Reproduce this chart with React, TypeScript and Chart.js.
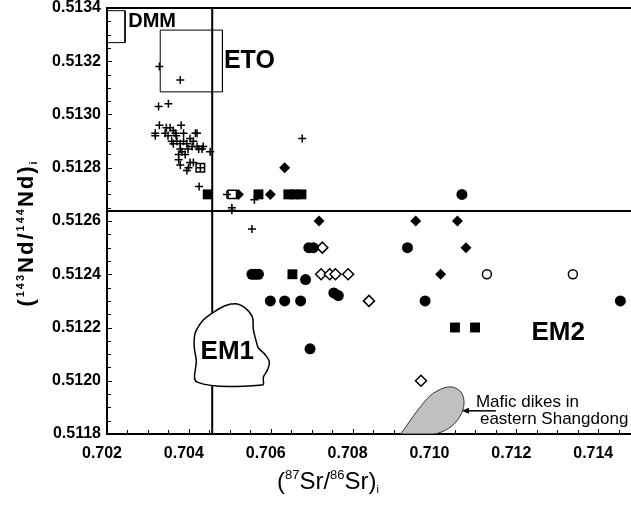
import { useEffect, useRef } from 'react';
import { Chart, registerables } from 'chart.js';
Chart.register(...registerables);

// ---- axes ----
const X_MIN = 0.702;
const X_MAX = 0.7148;
const Y_MIN = 0.5118;
const Y_MAX = 0.5134;
const xTickValues = [0.702, 0.704, 0.706, 0.708, 0.71, 0.712, 0.714];
const yTickValues = [0.5118, 0.512, 0.5122, 0.5124, 0.5126, 0.5128, 0.513, 0.5132, 0.5134];

// ---- data series ----
const crossSr = [0.70328, 0.70379, 0.70326, 0.7035, 0.70328, 0.70345, 0.70354, 0.70362, 0.70381, 0.70318, 0.70318, 0.70342, 0.70367, 0.70387, 0.70371, 0.70358, 0.70362, 0.70379, 0.70387, 0.70395, 0.70403, 0.70411, 0.70416, 0.7042, 0.70432, 0.70424, 0.70379, 0.70383, 0.70375, 0.70391, 0.70375, 0.70379, 0.70395, 0.70403, 0.70411, 0.70399, 0.70452, 0.70435, 0.7042, 0.70425, 0.70505, 0.70505, 0.70677, 0.7056, 0.70493, 0.70554, 0.70349, 0.70369, 0.70398, 0.70408, 0.70428];
const crossNd = [0.51318, 0.51313, 0.51303, 0.51304, 0.51296, 0.51295, 0.51295, 0.51294, 0.51296, 0.51293, 0.51292, 0.51293, 0.51293, 0.51293, 0.5129, 0.5129, 0.51289, 0.51289, 0.5129, 0.51289, 0.51291, 0.5129, 0.51293, 0.51288, 0.51287, 0.51287, 0.51287, 0.51286, 0.51285, 0.51285, 0.51283, 0.51281, 0.51279, 0.51282, 0.51282, 0.5128, 0.51286, 0.51288, 0.51293, 0.51273, 0.51265, 0.51264, 0.51291, 0.51268, 0.5127, 0.51257, 0.51292, 0.51292, 0.51287, 0.51288, 0.5128];

const fSquareSr = [0.70446, 0.7057, 0.70643, 0.70658, 0.70675, 0.70653, 0.7105, 0.71099];
const fSquareNd = [0.5127, 0.5127, 0.5127, 0.5127, 0.5127, 0.5124, 0.5122, 0.5122];

const fDiamondSr = [0.70634, 0.70599, 0.70521, 0.70718, 0.70954, 0.71056, 0.71077, 0.71015];
const fDiamondNd = [0.5128, 0.5127, 0.5127, 0.5126, 0.5126, 0.5126, 0.5125, 0.5124];

const fCircleSr = [0.71067, 0.70693, 0.70704, 0.70554, 0.70562, 0.7057, 0.70685, 0.70599, 0.70634, 0.70673, 0.70754, 0.70765, 0.70696, 0.70934, 0.70977, 0.71454];
const fCircleNd = [0.5127, 0.5125, 0.5125, 0.5124, 0.5124, 0.5124, 0.51238, 0.5123, 0.5123, 0.5123, 0.51233, 0.51232, 0.51212, 0.5125, 0.5123, 0.5123];

const oDiamondSr = [0.70726, 0.70723, 0.70744, 0.70758, 0.70789, 0.7084, 0.70967];
const oDiamondNd = [0.5125, 0.5124, 0.5124, 0.5124, 0.5124, 0.5123, 0.512];

const oCircleSr = [0.71128, 0.71338];
const oCircleNd = [0.5124, 0.5124];

const oSquareSr = [0.70428, 0.70506];
const oSquareNd = [0.5128, 0.5127];

// ---- reference fields ----
const dmmSr = [0.702, 0.70244, 0.70244, 0.702, 0.702];
const dmmNd = [0.51339, 0.51339, 0.51327, 0.51327, 0.51339];
const etoSr = [0.7033, 0.70482, 0.70482, 0.7033, 0.7033];
const etoNd = [0.513317, 0.513317, 0.513085, 0.513085, 0.513317];
const em1Sr = [0.705012, 0.705184, 0.70538, 0.705551, 0.705576, 0.705649, 0.705698, 0.705869, 0.705967, 0.705918, 0.70582, 0.705796, 0.704204, 0.70418, 0.704131, 0.704155, 0.704351, 0.704571, 0.704816, 0.705012];
const em1Nd = [0.512288, 0.512288, 0.512273, 0.512239, 0.512191, 0.512146, 0.512123, 0.512097, 0.51207, 0.51204, 0.512014, 0.511984, 0.511995, 0.512078, 0.512127, 0.512179, 0.512228, 0.512254, 0.512277, 0.512288];
const maficSr = [0.709176, 0.709592, 0.70991, 0.710229, 0.710449, 0.710645, 0.710718, 0.710694, 0.710523, 0.710278, 0.709984, 0.709176];
const maficNd = [0.5118, 0.51189, 0.511946, 0.511973, 0.511976, 0.511958, 0.511928, 0.51189, 0.511845, 0.511815, 0.5118, 0.5118];
const refLineSr = 0.70457;
const refLineNd = 0.512638;

// ---- annotations ----
const fieldLabels = ['DMM', 'ETO', 'EM1', 'EM2'];
const fieldLabelSr = [0.703102, 0.705478, 0.704939, 0.713021];
const fieldLabelNd = [0.513351, 0.513201, 0.512108, 0.512179];
const fieldLabelSize = [20, 25, 26, 26];
const maficLines = ['Mafic dikes in', 'eastern Shangdong'];
const maficLineSr = [0.711012, 0.71111];
const maficLineNd = [0.51192, 0.511856];
const arrowSr = [0.7115, 0.71067];
const arrowNd = 0.511887;

const pts = (xs: number[], ys: number[]) => xs.map((x, i) => ({ x, y: ys[i] }));
const FONT = '"Liberation Sans", Arial, sans-serif';

const decoPlugin = {
  id: 'deco',
  beforeDatasetsDraw(chart: any) {
    const { ctx, chartArea } = chart;
    const xs = chart.scales.x;
    const ys = chart.scales.y;
    ctx.save();
    ctx.strokeStyle = '#000';
    ctx.lineWidth = 2;
    ctx.beginPath();
    ctx.moveTo(chartArea.left, chartArea.top);
    ctx.lineTo(chartArea.right, chartArea.top);
    ctx.stroke();
    ctx.lineWidth = 1;
    ctx.beginPath();
    for (let i = 0; ; i++) {
      const v = X_MIN + i * 0.0005;
      if (v > X_MAX + 1e-9) break;
      const px = Math.round(xs.getPixelForValue(v)) + 0.5;
      const len = i % 4 === 0 ? 5 : 4;
      ctx.moveTo(px, chartArea.bottom);
      ctx.lineTo(px, chartArea.bottom - len);
    }
    for (let i = 0; ; i++) {
      const v = Y_MIN + i * 0.00005;
      if (v > Y_MAX + 1e-9) break;
      const py = Math.round(ys.getPixelForValue(v)) + 0.5;
      const len = i % 4 === 0 ? 5 : 4;
      ctx.moveTo(chartArea.left, py);
      ctx.lineTo(chartArea.left + len, py);
    }
    ctx.stroke();
    ctx.restore();
  },
  afterDatasetsDraw(chart: any) {
    const { ctx } = chart;
    const xs = chart.scales.x;
    const ys = chart.scales.y;
    ctx.save();
    ctx.fillStyle = '#000';
    ctx.textAlign = 'center';
    ctx.textBaseline = 'middle';
    fieldLabels.forEach((t, i) => {
      ctx.font = `bold ${fieldLabelSize[i]}px ${FONT}`;
      ctx.fillText(t, xs.getPixelForValue(fieldLabelSr[i]), ys.getPixelForValue(fieldLabelNd[i]));
    });
    ctx.textAlign = 'left';
    ctx.font = `17px ${FONT}`;
    maficLines.forEach((t, i) => {
      ctx.fillText(t, xs.getPixelForValue(maficLineSr[i]), ys.getPixelForValue(maficLineNd[i]));
    });
    const ax0 = xs.getPixelForValue(arrowSr[0]);
    const ax1 = xs.getPixelForValue(arrowSr[1]);
    const ay = ys.getPixelForValue(arrowNd);
    ctx.strokeStyle = '#000';
    ctx.lineWidth = 1.5;
    ctx.beginPath();
    ctx.moveTo(ax0, ay);
    ctx.lineTo(ax1 + 4, ay);
    ctx.stroke();
    ctx.beginPath();
    ctx.moveTo(ax1, ay);
    ctx.lineTo(ax1 + 7, ay - 3);
    ctx.lineTo(ax1 + 7, ay + 3);
    ctx.closePath();
    ctx.fill();
    ctx.restore();
  },
  afterDraw(chart: any) {
    const { ctx, chartArea } = chart;
    ctx.save();
    ctx.fillStyle = '#000';
    ctx.textBaseline = 'alphabetic';
    {
      const segs: [string, string, number][] = [
        ['(', `24px ${FONT}`, 0],
        ['87', `13px ${FONT}`, -10],
        ['Sr/', `24px ${FONT}`, 0],
        ['86', `13px ${FONT}`, -10],
        ['Sr)', `24px ${FONT}`, 0],
        ['i', `11px ${FONT}`, 4],
      ];
      let x = 277;
      const y = chartArea.bottom + 55;
      for (const [t, f, dy] of segs) {
        ctx.font = f;
        ctx.fillText(t, x, y + dy);
        x += ctx.measureText(t).width;
      }
    }
    {
      const segs: [string, string, number][] = [
        ['(', `bold 22px ${FONT}`, 0],
        ['143', `bold 11px ${FONT}`, -9],
        ['Nd/', `bold 22px ${FONT}`, 0],
        ['144', `bold 11px ${FONT}`, -9],
        ['Nd)', `bold 22px ${FONT}`, 0],
        ['i', `bold 11px ${FONT}`, 4],
      ];
      ctx.translate(33, 233);
      ctx.rotate(-Math.PI / 2);
      (ctx as any).letterSpacing = '2px';
      let total = 0;
      for (const [t, f] of segs) {
        ctx.font = f;
        total += ctx.measureText(t).width;
      }
      let x = -total / 2;
      for (const [t, f, dy] of segs) {
        ctx.font = f;
        ctx.fillText(t, x, dy);
        x += ctx.measureText(t).width;
      }
    }
    ctx.restore();
  },
};

export default function App() {
  const ref = useRef<HTMLCanvasElement>(null);
  useEffect(() => {
    if (!ref.current) return;
    const marker = (label: string, xs: number[], ys: number[], style: string, r: number, filled: boolean, order: number, bw = 1.5) => ({
      label,
      data: pts(xs, ys),
      pointStyle: style,
      pointRadius: r,
      pointHoverRadius: r,
      pointBackgroundColor: filled ? '#000' : '#fff',
      pointBorderColor: '#000',
      pointBorderWidth: bw,
      showLine: false,
      order,
    });
    const line = (label: string, xs: number[], ys: number[], opts: any, order: number) => ({
      label,
      data: pts(xs, ys),
      showLine: true,
      pointRadius: 0,
      pointHoverRadius: 0,
      borderColor: '#000',
      order,
      ...opts,
    });
    const chart = new Chart(ref.current, {
      type: 'scatter',
      data: {
        datasets: [
          marker('Crosses', crossSr, crossNd, 'cross', 4, false, 2, 1.5),
          marker('Open squares', oSquareSr, oSquareNd, 'rect', 6, false, 3),
          marker('Filled squares', fSquareSr, fSquareNd, 'rect', 7, true, 3, 0),
          marker('Filled diamonds', fDiamondSr, fDiamondNd, 'rectRot', 5.5, true, 3, 0),
          marker('Filled circles', fCircleSr, fCircleNd, 'circle', 5.5, true, 3, 0),
          marker('Open diamonds', oDiamondSr, oDiamondNd, 'rectRot', 5.5, false, 3),
          marker('Open circles', oCircleSr, oCircleNd, 'circle', 4.5, false, 3),
          line('EM1', em1Sr, em1Nd, { borderWidth: 1.5, tension: 0.35, fill: 'shape', backgroundColor: '#fff' }, 8),
          line('Mafic dikes', maficSr, maficNd, { borderWidth: 1, borderColor: '#333', tension: 0.3, fill: 'shape', backgroundColor: '#c0c0c0' }, 8),
          line('DMM', dmmSr, dmmNd, { borderWidth: 1, tension: 0, fill: false }, 8),
          line('ETO', etoSr, etoNd, { borderWidth: 1, tension: 0, fill: false }, 8),
          line('Sr ref', [refLineSr, refLineSr], [Y_MIN, Y_MAX], { borderWidth: 2, fill: false }, 10),
          line('Nd ref', [X_MIN, X_MAX], [refLineNd, refLineNd], { borderWidth: 2, fill: false }, 10),
        ] as any,
      },
      options: {
        animation: false,
        responsive: false,
        devicePixelRatio: 1,
        layout: { autoPadding: false, padding: { top: 8, left: 0, right: 0, bottom: 0 } },
        plugins: { legend: { display: false }, tooltip: { enabled: false } },
        scales: {
          x: {
            type: 'linear',
            min: X_MIN,
            max: X_MAX,
            afterBuildTicks: (s: any) => { s.ticks = xTickValues.map((v) => ({ value: v })); },
            afterFit: (s: any) => { s.height = 72; s.paddingLeft = 0; s.paddingRight = 0; },
            grid: { display: false, drawTicks: false },
            border: { display: true, color: '#000', width: 2 },
            ticks: {
              autoSkip: false,
              maxRotation: 0,
              padding: 12,
              labelOffset: -5,
              color: '#000',
              font: { family: FONT, size: 16, weight: 'bold', lineHeight: 1 },
              callback: (v: any) => Number(v).toFixed(3),
            },
          },
          y: {
            type: 'linear',
            min: Y_MIN,
            max: Y_MAX,
            afterBuildTicks: (s: any) => { s.ticks = yTickValues.map((v) => ({ value: v })); },
            afterFit: (s: any) => { s.width = 107; s.paddingTop = 0; s.paddingBottom = 0; },
            grid: { display: false, drawTicks: false },
            border: { display: true, color: '#000', width: 2 },
            ticks: {
              autoSkip: false,
              padding: 6,
              color: '#000',
              font: { family: FONT, size: 16, weight: 'bold', lineHeight: 1 },
              callback: (v: any) => Number(v).toFixed(4),
            },
          },
        },
      } as any,
      plugins: [decoPlugin],
    });
    return () => chart.destroy();
  }, []);
  return (
    <div style={{ position: 'absolute', left: 0, top: 0, width: 631, height: 506, background: '#fff' }}>
      <canvas ref={ref} width={631} height={506} style={{ display: 'block' }} />
    </div>
  );
}
